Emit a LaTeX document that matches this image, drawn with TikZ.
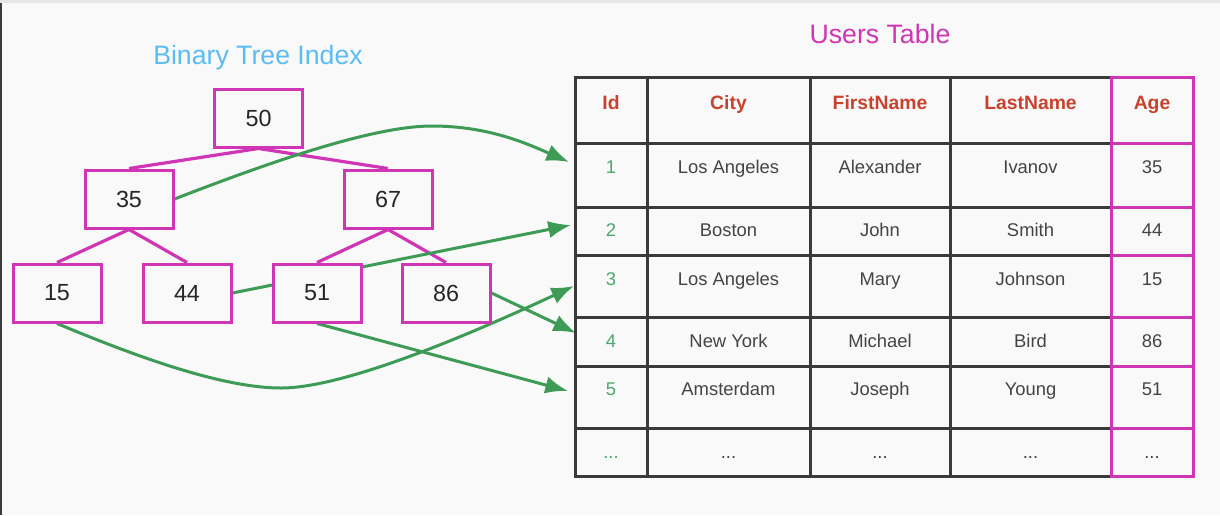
\documentclass[tikz,border=0pt]{standalone}
\usepackage{fontspec}
\setmainfont{Liberation Sans}
\usepackage{xcolor}
\usetikzlibrary{arrows.meta, backgrounds}
\definecolor{bgcol}{HTML}{F9F9F9}
\definecolor{idxmag}{HTML}{CF35B5}
\definecolor{ptrgreen}{HTML}{3D9B56}
\definecolor{idgreen}{HTML}{4AA86A}
\definecolor{headred}{HTML}{C8432E}
\definecolor{titleblue}{HTML}{5BBCF5}
\definecolor{tablegray}{HTML}{3A3A3A}
\definecolor{txtgray}{HTML}{444444}
\newcommand{\rowdots}{...}

\begin{document}
\begin{tikzpicture}[x=0.75pt, y=-0.75pt,
  keybox/.style={draw=idxmag, line width=2.25pt, fill=bgcol, minimum width=66pt, minimum height=43.5pt, font=\fontsize{17.5}{20}\selectfont, text=black!85},
  treeedge/.style={draw=idxmag, line width=2.4pt},
  pointer/.style={draw=ptrgreen, line width=2.25pt, -{Latex[length=17pt, width=13pt]}},
  tline/.style={draw=tablegray, line width=2.25pt, line cap=rect},
  ageline/.style={draw=idxmag, line width=2.25pt, line cap=rect},
  head/.style={anchor=base, text=headred, font=\fontsize{14.5}{17}\selectfont\bfseries},
  cell/.style={anchor=base, text=txtgray, font=\fontsize{13.8}{16}\selectfont},
  idcell/.style={cell, text=idgreen},
  title/.style={anchor=base, font=\fontsize{20}{24}\selectfont}]
\useasboundingbox (0, 0) rectangle (1220, 515);
\begin{scope}[on background layer]
\fill [bgcol] (0, 0) rectangle (1220, 515);
\fill [black!10] (0, 0) rectangle (1220, 3);
\fill [tablegray] (0, 3) rectangle (2, 515);
\end{scope}
% titles
\node [title, text=titleblue] (treetitle) at (258, 64) {Binary Tree Index};
\node [title, text=idxmag] (tabletitle) at (880, 43) {Users Table};
% index tree
\node [keybox] (n50) at (258.5, 118) {50};
\node [keybox] (n35) at (129, 199) {35};
\node [keybox] (n67) at (388, 199) {67};
\node [keybox] (n15) at (57, 293) {15};
\node [keybox] (n44) at (187, 293) {44};
\node [keybox] (n51) at (317, 293) {51};
\node [keybox] (n86) at (446, 293) {86};
% table
\foreach \y in {77, 143, 207, 255, 317, 366, 428, 476} \draw [tline] (575, \y) -- (1111, \y);
\foreach \x in {575, 647, 810, 950} \draw [tline] (\x, 77) -- (\x, 476);
\foreach \y in {77, 143, 207, 255, 317, 366, 428, 476} \draw [ageline] (1111, \y) -- (1193, \y);
\foreach \x in {1111, 1193} \draw [ageline] (\x, 77) -- (\x, 476);
\foreach \cx/\txt [count=\c] in {611/Id, 728.5/City, 880/FirstName, 1030.5/LastName, 1152/Age}
  \node [head] (h\c) at (\cx, 109.5) {\txt};
\foreach \y/\id/\city/\first/\last/\age [count=\r] in {173.5/1/Los Angeles/Alexander/Ivanov/35, 236.7/2/Boston/John/Smith/44, 285/3/Los Angeles/Mary/Johnson/15, 347.3/4/New York/Michael/Bird/86, 395/5/Amsterdam/Joseph/Young/51, 458/\rowdots/\rowdots/\rowdots/\rowdots/\rowdots} {
  \node [idcell] (id\r) at (611, \y) {\id};
  \node [cell] (city\r) at (728.5, \y) {\city};
  \node [cell] (first\r) at (880, \y) {\first};
  \node [cell] (last\r) at (1030.5, \y) {\last};
  \node [cell] (age\r) at (1152, \y) {\age};
}
% row targets
\coordinate (r1) at (569, 162);
\coordinate (r2) at (571, 225);
\coordinate (r3) at (574, 286);
\coordinate (r4) at (576, 333);
\coordinate (r5) at (568, 391);
\coordinate (top1) at (432, 126);
\coordinate (low3) at (281, 388);
\begin{scope}[on background layer]
\draw [treeedge] (n50.south) -- (n35.north);
\draw [treeedge] (n50.south) -- (n67.north);
\draw [treeedge] (n35.south) -- (n15.north);
\draw [treeedge] (n35.south) -- (n44.north);
\draw [treeedge] (n67.south) -- (n51.north);
\draw [treeedge] (n67.south) -- (n86.north);
\draw [pointer] (n35.east) .. controls (260, 166) and (370, 126) .. (top1) .. controls (490, 126) and (530, 145) .. (r1);
\draw [pointer] (n44.east) -- (r2);
\draw [pointer] (n15.south) .. controls (130, 354) and (220, 388) .. (low3) .. controls (350, 388) and (490, 325) .. (r3);
\draw [pointer] (n86.east) -- (r4);
\draw [pointer] (n51.south) -- (r5);
\end{scope}
\end{tikzpicture}
\end{document}
